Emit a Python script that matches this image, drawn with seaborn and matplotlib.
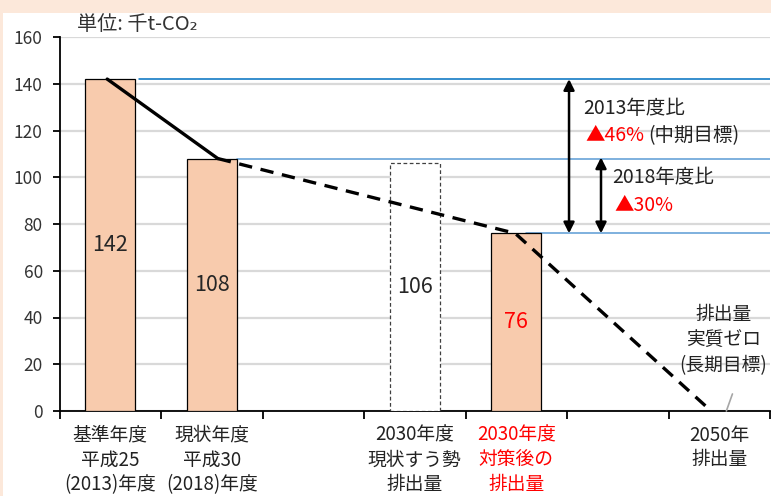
import matplotlib
matplotlib.use("Agg")
import matplotlib.pyplot as plt
from matplotlib.patches import Rectangle
import numpy as np
import pandas as pd
import seaborn as sns

# Data
positions = [0, 1, 2, 3, 4, 5, 6]
categories = ["基準年度\n平成25\n(2013)年度", "現状年度\n平成30\n(2018)年度", "",
              "2030年度\n現状すう勢\n排出量", "2030年度\n対策後の\n排出量", "",
              "2050年\n排出量"]
values = [142, 108, np.nan, 106, 76, np.nan, np.nan]
trend_x = [-0.03, 1.06]
trend_y = [142, 108]
proj_x = [1.06, 3.99, 5.92]
proj_y = [108, 76, 0]
ref_levels = [142, 108, 76]
ref_start = [0.28, 1.25, 4.1]
yticks = [0, 20, 40, 60, 80, 100, 120, 140, 160]

sns.set_style("white")
plt.rcParams["font.family"] = ["Noto Sans CJK JP", "DejaVu Sans"]

df = pd.DataFrame({"pos": positions, "value": values})

fig = plt.figure(figsize=(7.71, 4.96), dpi=100)
fig.patch.set_facecolor("#FCE8DA")
fig.patches.append(Rectangle((3 / 771, 0), 1, 1 - 13 / 496, transform=fig.transFigure,
                             facecolor="white", edgecolor="none", zorder=-10))
ax = fig.add_axes([59.5 / 771, 85 / 496, 710.5 / 771, 374 / 496])
ax.set_zorder(1)
ax.set_facecolor("none")

sns.barplot(data=df, x="pos", y="value", color="#F8CBAD", width=0.49,
            edgecolor="black", linewidth=0.9, errorbar=None, saturation=1, ax=ax, zorder=3)

# the "business as usual" bar is an empty dashed box
for p in ax.patches:
    cx = p.get_x() + p.get_width() / 2
    if abs(cx - 3) < 0.1:
        p.set_facecolor("white")
        p.set_edgecolor("#404040")
        p.set_linestyle((0, (3, 2)))
        p.set_linewidth(0.9)

# labels in the middle of the bars
labels = ax.bar_label(ax.containers[0], label_type="center", fontsize=15.5,
                      fmt="%.0f", zorder=5)
for t in labels:
    if t.get_text() == "76":
        t.set_color("red")
    elif t.get_text() in ("nan", ""):
        t.set_text("")

# grid
ax.set_ylim(0, 160)
ax.set_xlim(-0.5, 6.5)
ax.set_yticks(yticks)
ax.yaxis.grid(True, color="#D9D9D9", linewidth=1.6, zorder=0)
ax.set_axisbelow(True)

# reference levels in blue
ref_colors = ["#0070C0", "#5B9BD5", "#5B9BD5"]
for lvl, x0, c in zip(ref_levels, ref_start, ref_colors):
    ax.plot([x0, 6.5], [lvl, lvl], color=c, linewidth=1.1, zorder=2)

# emission path
ax.plot(trend_x, trend_y, color="black", linewidth=2.4, zorder=6)
ax.plot(proj_x, proj_y, color="black", linewidth=2.4, linestyle=(0, (4, 2.6)), zorder=6)
ax.plot([6.07, 6.13], [0, 7.3], color="#A6A6A6", linewidth=1.2, zorder=6, clip_on=False)

# arrows
arrow = dict(arrowstyle="<|-|>", color="black", lw=1.8, mutation_scale=16,
             shrinkA=0, shrinkB=0)
ax.annotate("", xy=(4.52, 76), xytext=(4.52, 142), arrowprops=arrow, zorder=7)
ax.annotate("", xy=(4.835, 76), xytext=(4.835, 108.5), arrowprops=arrow, zorder=7)

fs = 14
ax.text(4.66, 129.6, "2013年度比", fontsize=fs, color="#222222", va="center", ha="left")
t46 = ax.text(4.68, 118, "▲46%", fontsize=fs, color="red", va="center", ha="left")
ax.annotate("(中期目標)", xy=(1, 0.5), xycoords=t46, xytext=(3, 0),
            textcoords="offset points", fontsize=fs, color="#222222",
            va="center", ha="left")
ax.text(4.95, 99.7, "2018年度比", fontsize=fs, color="#222222", va="center", ha="left")
ax.text(4.97, 88, "▲30%", fontsize=fs, color="red", va="center", ha="left")
ax.text(6.04, 30.4, "排出量\n実質ゼロ\n(長期目標)", fontsize=13.5, color="#222222",
        va="center", ha="center", linespacing=1.3, zorder=8)

# axes styling
for s in ["top", "right"]:
    ax.spines[s].set_visible(False)
for s in ["left", "bottom"]:
    ax.spines[s].set_color("black")
    ax.spines[s].set_linewidth(1.3)
ax.set_xlabel("")
ax.set_ylabel("")
ax.tick_params(axis="y", which="major", direction="out", length=5, width=1.3,
               color="black", labelsize=12.5, labelcolor="#333333", pad=7, left=True)

ax.set_xticks(np.arange(-0.5, 7, 1))
ax.set_xticklabels([])
ax.tick_params(axis="x", which="major", direction="out", length=6, width=1.3,
               color="black", bottom=True)
ax.set_xticks(positions, minor=True)
ax.set_xticklabels(categories, minor=True, fontsize=13.5, linespacing=1.22)
ax.tick_params(axis="x", which="minor", length=0, pad=10, labelcolor="#222222")
ax.get_xticklabels(minor=True)[4].set_color("red")

fig.text(77 / 771, 1 - 25 / 496, "単位: 千t-CO₂", fontsize=14.5, color="#333333",
         va="center", ha="left")

fig.savefig("out.png", dpi=100, facecolor=fig.get_facecolor())
